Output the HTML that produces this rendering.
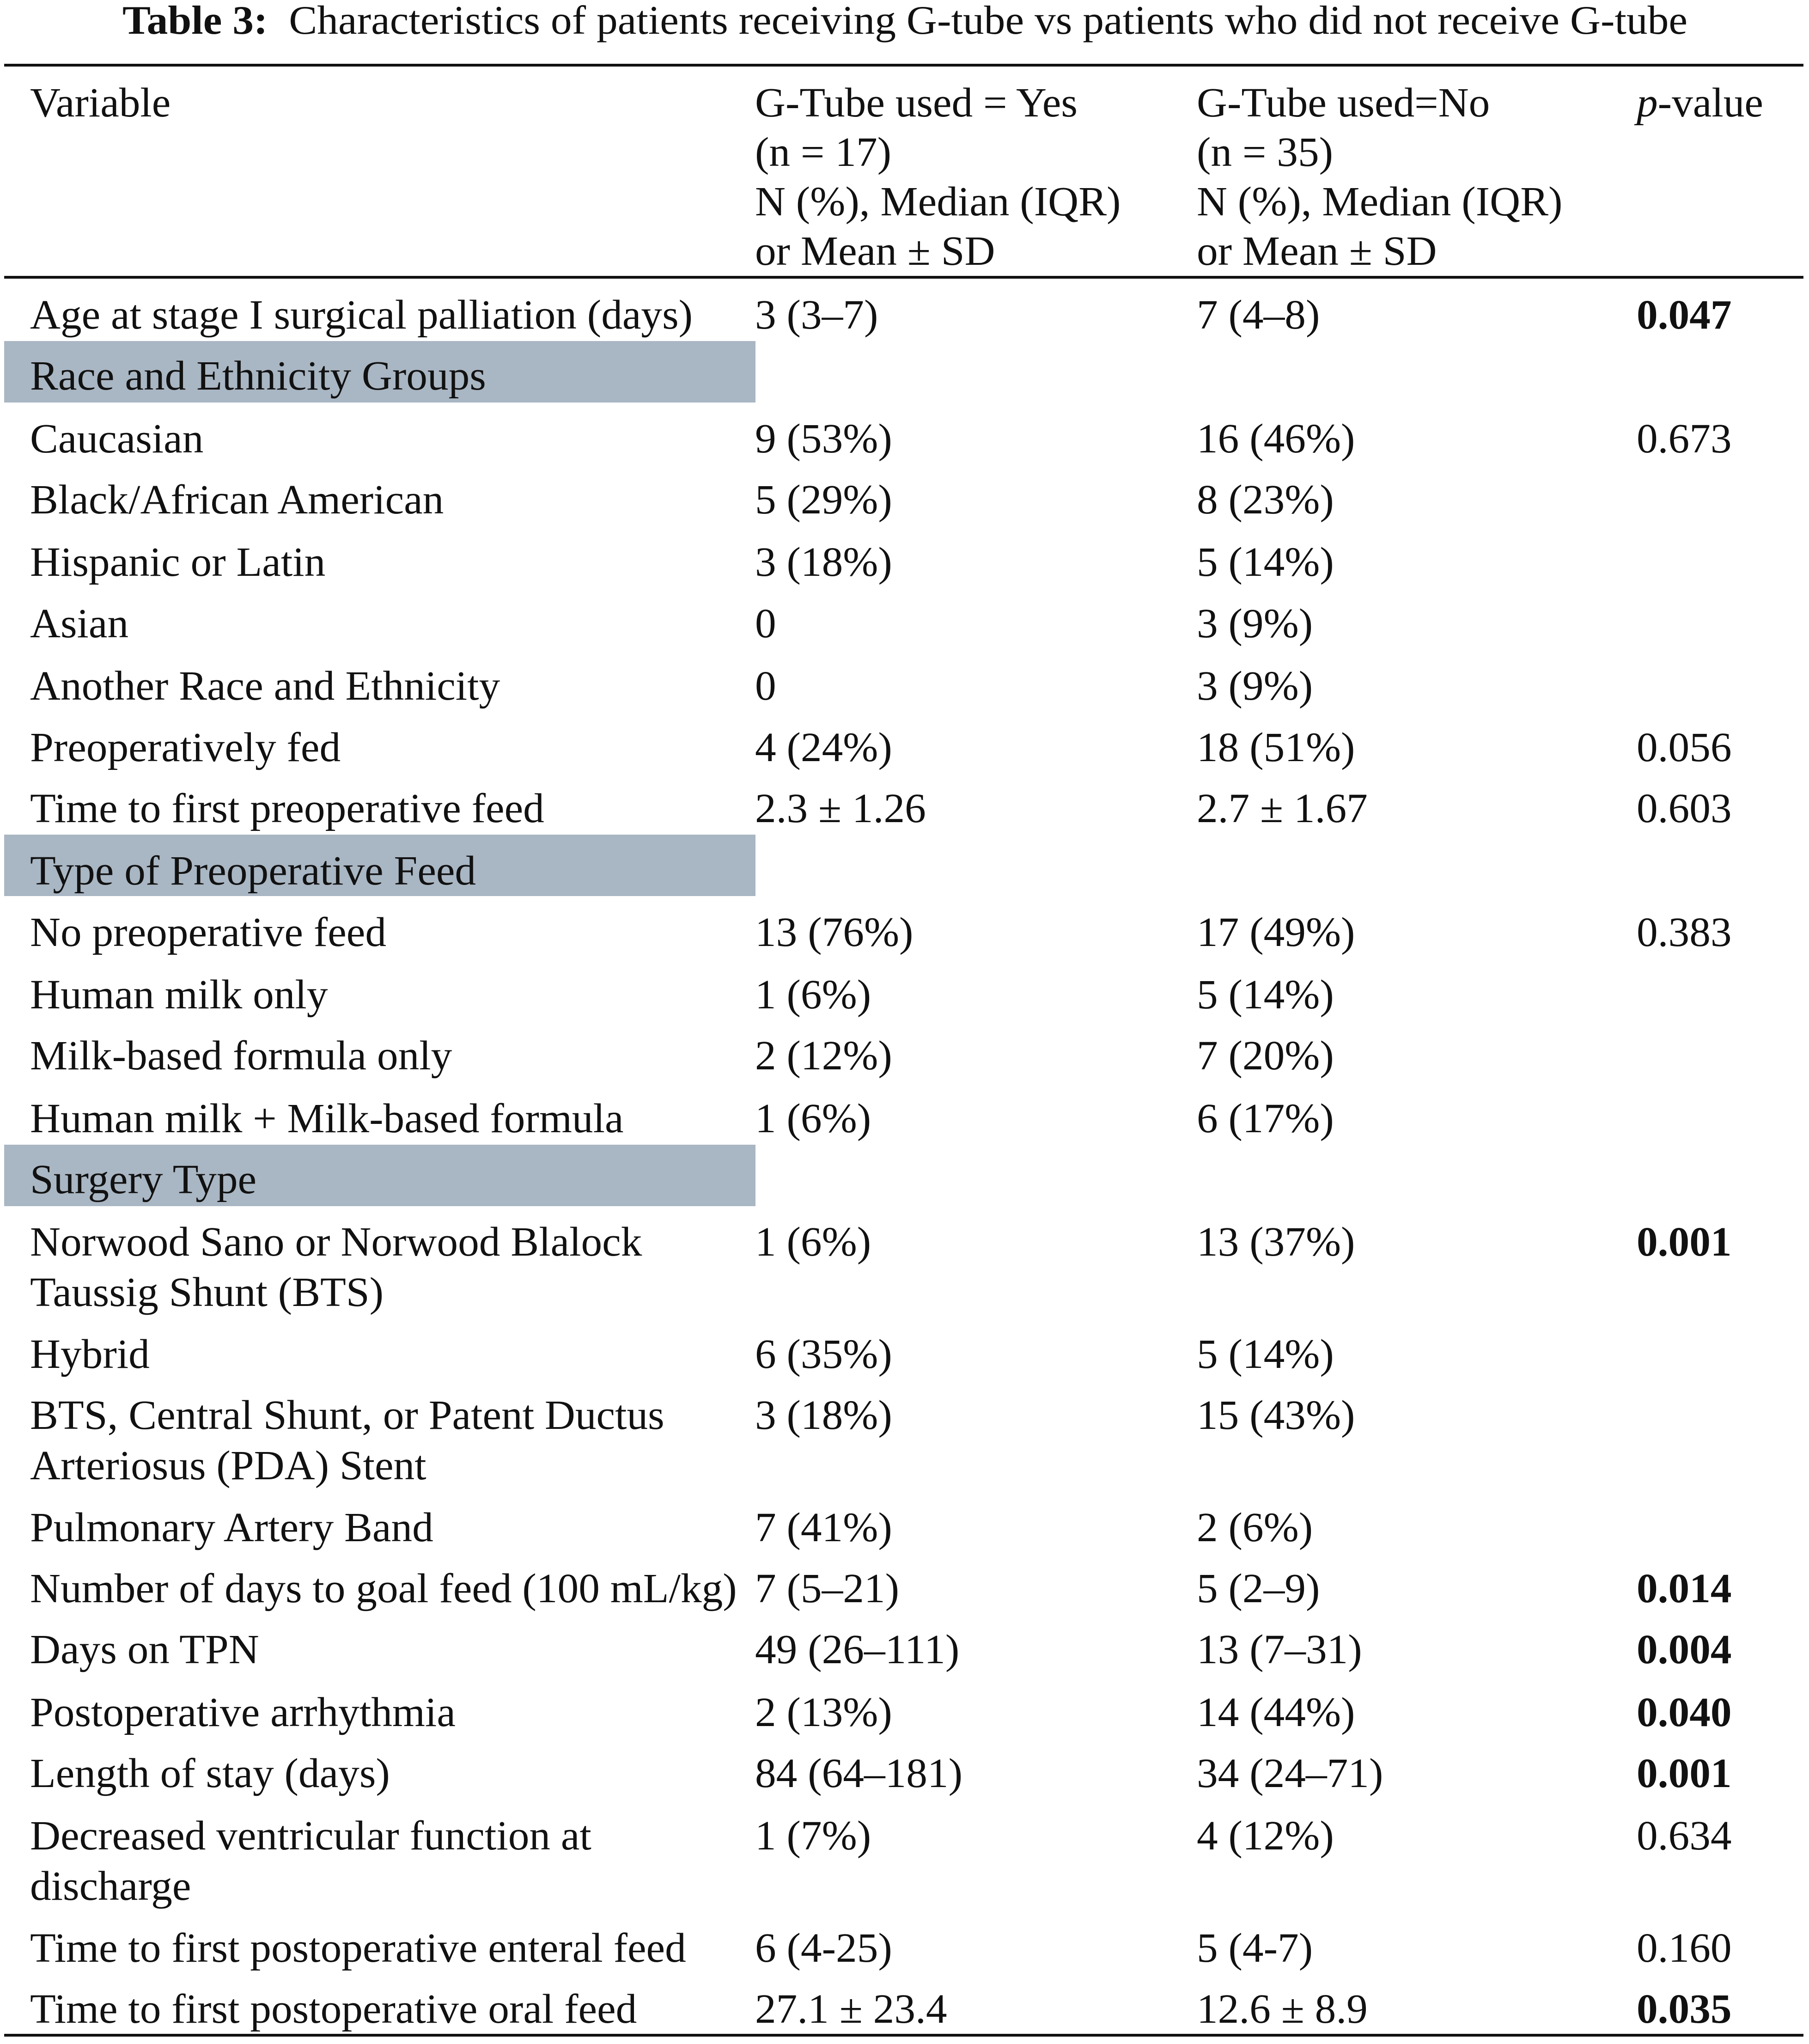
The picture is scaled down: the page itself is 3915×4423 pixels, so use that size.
<!DOCTYPE html>
<html><head><meta charset="utf-8">
<style>
html,body{margin:0;padding:0;background:#fff;}
#page{position:relative;width:3915px;height:4423px;overflow:hidden;background:#fff;font-family:"Liberation Serif",serif;color:#111;}
.t{position:absolute;white-space:nowrap;font-size:90px;line-height:100px;height:100px;transform:scaleX(1.015);transform-origin:0 50%;}
.rule{position:absolute;left:9px;width:3894px;height:6px;background:#111;}
.band{position:absolute;left:9px;width:1626px;height:133px;background:#a9b6c3;}
</style></head>
<body>
<div id="page">
  <div class="t" style="left:265px;top:-5px;font-size:88px;transform:scaleX(1.04);">
    <b>Table 3:</b>&nbsp; Characteristics of patients receiving G-tube vs patients who did not receive G-tube</div>
  <div class="rule" style="top:138px"></div>
  <div class="rule" style="top:597px"></div>
  <div class="rule" style="top:4401px"></div>
</div>
<script>
const S = 2.818;
const colX = [23, 580, 919, 1257];
const bands = [285.5, 664.5, 902.5];
const headers = [
  [["Variable"]],
  [["G-Tube used = Yes"],["(n = 17)"],["N (%), Median (IQR)"],["or Mean ± SD"]],
  [["G-Tube used=No"],["(n = 35)"],["N (%), Median (IQR)"],["or Mean ± SD"]],
  [["<i>p</i>-value"]]
];
const rowY = [242,289,337,384,432,479,527,574,621,669,716,764,811,859,906,954,1040,1087,1173,1220,1267,1315,1362,1410,1496,1543];
const rowLabels = [
 ["Age at stage I surgical palliation (days)"],["Race and Ethnicity Groups"],["Caucasian"],["Black/African American"],
 ["Hispanic or Latin"],["Asian"],["Another Race and Ethnicity"],["Preoperatively fed"],["Time to first preoperative feed"],
 ["Type of Preoperative Feed"],["No preoperative feed"],["Human milk only"],["Milk-based formula only"],
 ["Human milk + Milk-based formula"],["Surgery Type"],["Norwood Sano or Norwood Blalock","Taussig Shunt (BTS)"],
 ["Hybrid"],["BTS, Central Shunt, or Patent Ductus","Arteriosus (PDA) Stent"],["Pulmonary Artery Band"],
 ["Number of days to goal feed (100 mL/kg)"],["Days on TPN"],["Postoperative arrhythmia"],["Length of stay (days)"],
 ["Decreased ventricular function at","discharge"],["Time to first postoperative enteral feed"],["Time to first postoperative oral feed"]
];
const yesVals = ["3 (3–7)","","9 (53%)","5 (29%)","3 (18%)","0","0","4 (24%)","2.3 ± 1.26","","13 (76%)","1 (6%)","2 (12%)","1 (6%)","","1 (6%)","6 (35%)","3 (18%)","7 (41%)","7 (5–21)","49 (26–111)","2 (13%)","84 (64–181)","1 (7%)","6 (4-25)","27.1 ± 23.4"];
const noVals = ["7 (4–8)","","16 (46%)","8 (23%)","5 (14%)","3 (9%)","3 (9%)","18 (51%)","2.7 ± 1.67","","17 (49%)","5 (14%)","7 (20%)","6 (17%)","","13 (37%)","5 (14%)","15 (43%)","2 (6%)","5 (2–9)","13 (7–31)","14 (44%)","34 (24–71)","4 (12%)","5 (4-7)","12.6 ± 8.9"];
const pVals = ["0.047","","0.673","","","","","0.056","0.603","","0.383","","","","","0.001","","","","0.014","0.004","0.040","0.001","0.634","0.160","0.035"];
const pBold = [1,0,0,0,0,0,0,0,0,0,0,0,0,0,0,1,0,0,0,1,1,1,1,0,0,1];
const page = document.getElementById('page');
function txt(x, yc, html, bold){
  const d = document.createElement('div');
  d.className = 't';
  d.style.left = (x*S) + 'px';
  d.style.top = (yc*S - 50) + 'px';
  if (bold) d.style.fontWeight = 'bold';
  d.innerHTML = html;
  page.appendChild(d);
  return d;
}
bands.forEach(function(b, i){
  const d = document.createElement('div');
  d.className = 'band';
  
  
  d.style.top = ((b - 23.5)*S) + 'px';
  page.appendChild(d);
});
const hdrY = [79,117,155,193];
headers.forEach(function(h, c){
  h.forEach(function(line, li){
    const d = txt(colX[c], hdrY[li], line[0], false);
    
    
  });
});
rowY.forEach(function(y, r){
  rowLabels[r].forEach(function(l, li){
    const d = txt(colX[0], y + li*38.5, l, false);
    
    
  });
  if (yesVals[r]) {
    const d = txt(colX[1], y, yesVals[r], false);
    
    
  }
  if (noVals[r]) {
    const d = txt(colX[2], y, noVals[r], false);
    
    
  }
  if (pVals[r]) {
    const d = txt(colX[3], y, pVals[r], pBold[r] === 1);
    
    
  }
});
</script>
</body></html>
